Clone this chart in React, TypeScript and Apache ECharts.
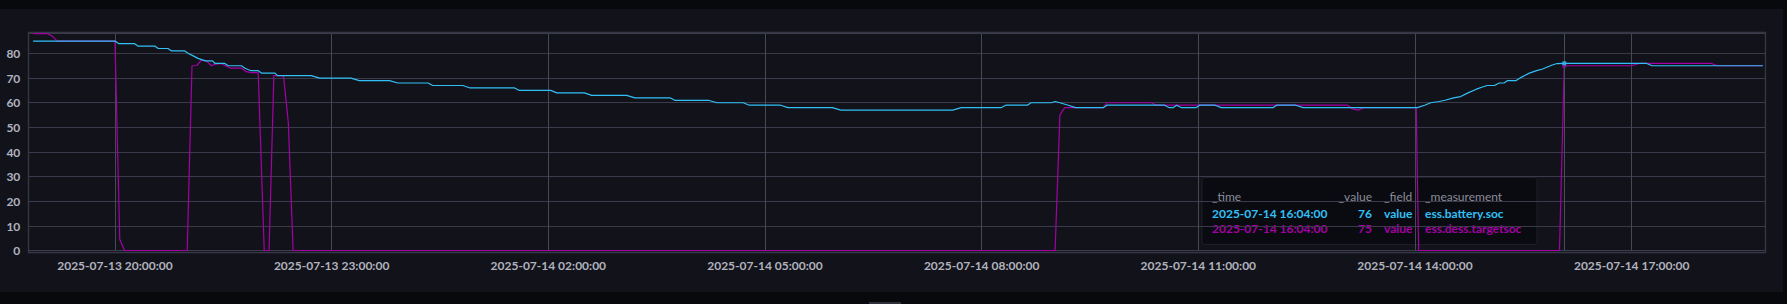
import React, { useEffect, useRef } from "react";
import * as echarts from "echarts";

const W = 1787;
const H = 304;

// ---- data (time, value) ----
const batterySoc: [string, number][] = [
  ["2025-07-13 18:52", 85], ["2025-07-13 20:00", 85], ["2025-07-13 20:03", 84], ["2025-07-13 20:16", 84],
  ["2025-07-13 20:19", 83], ["2025-07-13 20:33", 83], ["2025-07-13 20:36", 82], ["2025-07-13 20:44", 82],
  ["2025-07-13 20:47", 81], ["2025-07-13 20:58", 81], ["2025-07-13 21:01", 80], ["2025-07-13 21:05", 79],
  ["2025-07-13 21:09", 78], ["2025-07-13 21:12", 77.5], ["2025-07-13 21:15", 77], ["2025-07-13 21:21", 77],
  ["2025-07-13 21:23", 76], ["2025-07-13 21:31", 76], ["2025-07-13 21:34", 75], ["2025-07-13 21:45", 75],
  ["2025-07-13 21:48", 74], ["2025-07-13 21:53", 73], ["2025-07-13 21:59", 73], ["2025-07-13 22:02", 72],
  ["2025-07-13 22:13", 72], ["2025-07-13 22:15", 71], ["2025-07-13 22:43", 71], ["2025-07-13 22:50", 70],
  ["2025-07-13 23:16", 70], ["2025-07-13 23:23", 69], ["2025-07-13 23:48", 69], ["2025-07-13 23:55", 68],
  ["2025-07-14 00:20", 68], ["2025-07-14 00:24", 67], ["2025-07-14 00:49", 67], ["2025-07-14 00:55", 66],
  ["2025-07-14 01:32", 66], ["2025-07-14 01:36", 65], ["2025-07-14 02:02", 65], ["2025-07-14 02:07", 64],
  ["2025-07-14 02:30", 64], ["2025-07-14 02:36", 63], ["2025-07-14 03:05", 63], ["2025-07-14 03:12", 62],
  ["2025-07-14 03:41", 62], ["2025-07-14 03:45", 61], ["2025-07-14 04:13", 61], ["2025-07-14 04:20", 60],
  ["2025-07-14 04:42", 60], ["2025-07-14 04:47", 59], ["2025-07-14 05:13", 59], ["2025-07-14 05:19", 58],
  ["2025-07-14 05:56", 58], ["2025-07-14 06:03", 57], ["2025-07-14 07:36", 57], ["2025-07-14 07:43", 58],
  ["2025-07-14 08:16", 58], ["2025-07-14 08:20", 59], ["2025-07-14 08:38", 59], ["2025-07-14 08:41", 60],
  ["2025-07-14 08:58", 60], ["2025-07-14 09:01", 60.5], ["2025-07-14 09:05", 60], ["2025-07-14 09:12", 59],
  ["2025-07-14 09:18", 58], ["2025-07-14 09:41", 58], ["2025-07-14 09:44", 59], ["2025-07-14 10:32", 59],
  ["2025-07-14 10:36", 58], ["2025-07-14 10:39", 58], ["2025-07-14 10:42", 59], ["2025-07-14 10:46", 58],
  ["2025-07-14 10:58", 58], ["2025-07-14 11:01", 59], ["2025-07-14 11:14", 59], ["2025-07-14 11:19", 58],
  ["2025-07-14 12:02", 58], ["2025-07-14 12:05", 59], ["2025-07-14 12:21", 59], ["2025-07-14 12:27", 58],
  ["2025-07-14 14:02", 58], ["2025-07-14 14:08", 59], ["2025-07-14 14:13", 60], ["2025-07-14 14:20", 60.5],
  ["2025-07-14 14:25", 61], ["2025-07-14 14:32", 62], ["2025-07-14 14:38", 62.5], ["2025-07-14 14:44", 64],
  ["2025-07-14 14:51", 65.5], ["2025-07-14 14:56", 66.4], ["2025-07-14 15:00", 67], ["2025-07-14 15:06", 67],
  ["2025-07-14 15:10", 68], ["2025-07-14 15:14", 68], ["2025-07-14 15:17", 69], ["2025-07-14 15:24", 69],
  ["2025-07-14 15:29", 70.5], ["2025-07-14 15:35", 72], ["2025-07-14 15:41", 73], ["2025-07-14 15:46", 73.7],
  ["2025-07-14 15:50", 74.5], ["2025-07-14 15:54", 75.3], ["2025-07-14 15:58", 75.9], ["2025-07-14 16:04", 76],
  ["2025-07-14 17:12", 76], ["2025-07-14 17:17", 75], ["2025-07-14 18:49", 75],
];

const targetSoc: [string, number][] = [
  ["2025-07-13 18:52", 88], ["2025-07-13 19:04", 88], ["2025-07-13 19:08", 87], ["2025-07-13 19:12", 85],
  ["2025-07-13 20:00", 85], ["2025-07-13 20:04", 4.5], ["2025-07-13 20:08", 0], ["2025-07-13 21:00", 0],
  ["2025-07-13 21:04", 75], ["2025-07-13 21:08", 75.1], ["2025-07-13 21:12", 77.4], ["2025-07-13 21:16", 77],
  ["2025-07-13 21:20", 75], ["2025-07-13 21:24", 75.7], ["2025-07-13 21:28", 75.9], ["2025-07-13 21:34", 74.5],
  ["2025-07-13 21:36", 74], ["2025-07-13 21:45", 74], ["2025-07-13 21:49", 72.6], ["2025-07-13 21:53", 72.2],
  ["2025-07-13 21:59", 72.2], ["2025-07-13 22:04", 0], ["2025-07-13 22:08", 0], ["2025-07-13 22:12", 71],
  ["2025-07-13 22:20", 71], ["2025-07-13 22:24", 52], ["2025-07-13 22:28", 0],
  ["2025-07-14 09:01", 0], ["2025-07-14 09:05", 55], ["2025-07-14 09:09", 58], ["2025-07-14 09:41", 58],
  ["2025-07-14 09:44", 60], ["2025-07-14 10:21", 60], ["2025-07-14 10:25", 59], ["2025-07-14 13:04", 59],
  ["2025-07-14 13:08", 57.5], ["2025-07-14 13:13", 57], ["2025-07-14 13:17", 58], ["2025-07-14 14:01", 58],
  ["2025-07-14 14:03", 0], ["2025-07-14 16:00", 0], ["2025-07-14 16:04", 75], ["2025-07-14 17:00", 75],
  ["2025-07-14 17:07", 76], ["2025-07-14 18:06", 76], ["2025-07-14 18:11", 75], ["2025-07-14 18:49", 75],
];

const seriesNames = ["ess.battery.soc", "ess.dess.targetsoc"];
const fieldNames = ["value", "value"];
const seriesColors = ["#31C0F6", "#A500A5"];

const xTicks = [
  "2025-07-13 20:00", "2025-07-13 23:00", "2025-07-14 02:00", "2025-07-14 05:00",
  "2025-07-14 08:00", "2025-07-14 11:00", "2025-07-14 14:00", "2025-07-14 17:00",
];
const xMin = "2025-07-13 18:48";
const xMax = "2025-07-14 18:51";
const yMin = 0;
const yMax = 88;
const yInterval = 10;

const hoverTime = "2025-07-14 16:04";
const tooltipHeaders = ["_time", "_value", "_field", "_measurement"];

// ---- helpers ----
function parseT(s: string): number {
  const [d, t] = s.split(" ");
  const [y, m, dd] = d.split("-").map(Number);
  const [hh, mm] = t.split(":").map(Number);
  return new Date(y, m - 1, dd, hh, mm, 0).getTime();
}
const p2 = (n: number) => (n < 10 ? "0" + n : String(n));
function fmtT(v: number): string {
  const d = new Date(v);
  return `${d.getFullYear()}-${p2(d.getMonth() + 1)}-${p2(d.getDate())} ${p2(d.getHours())}:${p2(d.getMinutes())}:${p2(d.getSeconds())}`;
}

const FONT = "Lato, 'DejaVu Sans', sans-serif";

export default function App() {
  const ref = useRef<HTMLDivElement>(null);

  useEffect(() => {
    if (!ref.current) return;
    const chart = echarts.init(ref.current, undefined, { renderer: "svg", width: W, height: H });

    const allSeries = [batterySoc, targetSoc];
    const hoverT = parseT(hoverTime);
    const hoverVals = allSeries.map((s) => {
      const f = s.find((p) => p[0] === hoverTime);
      return f ? f[1] : 0;
    });
    const tickVals = xTicks.map(parseT);

    const tipX = 1202, tipY = 177.5, tipW = 335, tipH = 67;
    const colTime = 1212, colValue = 1372, colField = 1384, colMeas = 1425;
    const rowY = [196, 213.7, 228.3];

    const tipChildren: any[] = [
      {
        type: "rect",
        shape: { x: tipX, y: tipY, width: tipW, height: tipH, r: 3 },
        style: { fill: "#0a0b10", stroke: "#1d1e28", lineWidth: 1 },
      },
    ];
    const hdrX = [colTime, colValue, colField, colMeas];
    const hdrAlign = ["left", "right", "left", "left"];
    tooltipHeaders.forEach((h, i) => {
      tipChildren.push({
        type: "text",
        x: hdrX[i],
        y: rowY[0],
        style: { text: h, fill: "#8b8d9a", font: `400 12px ${FONT}`, align: hdrAlign[i], verticalAlign: "middle" },
      });
    });
    seriesNames.forEach((name, i) => {
      const cells = [fmtT(hoverT), String(hoverVals[i]), fieldNames[i], name];
      cells.forEach((c, j) => {
        tipChildren.push({
          type: "text",
          x: hdrX[j],
          y: rowY[i + 1],
          style: { text: c, fill: seriesColors[i], font: `700 12px ${FONT}`, align: hdrAlign[j], verticalAlign: "middle" },
        });
      });
    });

    const option: any = {
      animation: false,
      backgroundColor: "#12131a",
      grid: { left: 28.3, right: 21.7, top: 33.7, bottom: 53.3, containLabel: false },
      xAxis: {
        type: "value",
        min: parseT(xMin),
        max: parseT(xMax),
        axisLine: { show: false },
        axisTick: { show: false, customValues: tickVals },
        axisLabel: {
          customValues: tickVals,
          formatter: (v: number) => fmtT(v),
          color: "#b0b2be",
          fontFamily: FONT,
          fontWeight: 700,
          fontSize: 12,
          margin: 9,
        },
        splitLine: { show: true, lineStyle: { color: "#474857", width: 1 } },
      },
      yAxis: {
        type: "value",
        min: yMin,
        max: yMax,
        interval: yInterval,
        axisLine: { show: false },
        axisTick: { show: false },
        axisLabel: {
          showMaxLabel: false,
          formatter: (v: number) => (v % 10 === 0 ? String(v) : ""),
          color: "#b0b2be",
          fontFamily: FONT,
          fontWeight: 700,
          fontSize: 12,
          margin: 8,
        },
        splitLine: { show: true, lineStyle: { color: "#3a3b4a", width: 1 } },
      },
      series: [
        {
          name: seriesNames[0],
          type: "line",
          data: batterySoc.map((p) => [parseT(p[0]), p[1]]),
          showSymbol: false,
          lineStyle: { color: seriesColors[0], width: 1.2 },
          itemStyle: { color: seriesColors[0] },
          z: 3,
          markLine: {
            silent: true,
            symbol: ["none", "none"],
            label: { show: false },
            lineStyle: { color: "#4a4b5b", width: 1, type: "solid" },
            data: [{ xAxis: hoverT }],
          },
        },
        {
          name: seriesNames[1],
          type: "line",
          data: targetSoc.map((p) => [parseT(p[0]), p[1]]),
          showSymbol: false,
          lineStyle: { color: seriesColors[1], width: 1.2 },
          itemStyle: { color: seriesColors[1] },
          z: 2,
        },
        {
          type: "scatter",
          data: [[hoverT, hoverVals[0]]],
          symbol: "rect",
          symbolSize: 4,
          itemStyle: { color: seriesColors[0] },
          z: 5,
        },
        {
          type: "scatter",
          data: [[hoverT, hoverVals[1]]],
          symbol: "rect",
          symbolSize: 4,
          itemStyle: { color: seriesColors[1] },
          z: 4,
        },
      ],
      graphic: [
        { type: "rect", silent: true, shape: { x: 0, y: 0, width: W, height: 9 }, style: { fill: "#08090d" } },
        { type: "rect", silent: true, shape: { x: 0, y: 292, width: W, height: 12 }, style: { fill: "#08090d" } },
        { type: "rect", silent: true, shape: { x: 1783, y: 0, width: 4, height: H }, style: { fill: "#08090d" } },
        { type: "rect", silent: true, shape: { x: 869, y: 302, width: 32, height: 2 }, style: { fill: "#2e2f3b" } },
        {
          type: "rect",
          silent: true,
          shape: { x: 28.5, y: 32.5, width: 1737, height: 220 },
          style: { fill: "none", stroke: "#363745", lineWidth: 1.3 },
        },
        { type: "group", z: 100, silent: true, children: tipChildren },
      ],
    };

    chart.setOption(option);
    return () => chart.dispose();
  }, []);

  return (
    <div
      ref={ref}
      style={{ position: "fixed", left: 0, top: 0, width: W, height: H, margin: 0, padding: 0 }}
    />
  );
}
